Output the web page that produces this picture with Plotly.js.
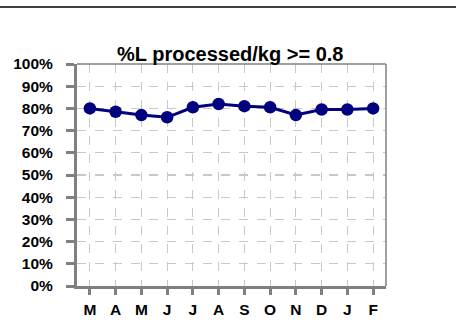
<!DOCTYPE html>
<html><head><meta charset="utf-8">
<script src="https://cdn.plot.ly/plotly-3.0.1.min.js"></script>
<style>html,body{margin:0;padding:0;background:#fff}#c{width:456px;height:328px}</style>
</head><body><div id="c"></div>
<script>
const months = ["M","A","M","J","J","A","S","O","N","D","J","F"];
const pct = [0.80,0.785,0.77,0.76,0.805,0.82,0.81,0.805,0.77,0.795,0.795,0.80];
const yTicks = [0,0.1,0.2,0.3,0.4,0.5,0.6,0.7,0.8,0.9,1.0];
const xIdx = months.map((m,i)=>i);

const trace = {
  x: xIdx, y: pct, type:'scatter', mode:'lines+markers',
  line:{color:'#000080', width:3},
  marker:{color:'#000080', size:12.5},
  hoverinfo:'none'
};
const F = 'Liberation Sans, Arial, sans-serif';
const layout = {
  width:456, height:328,
  margin:{l:77,r:70,t:64,b:42},
  paper_bgcolor:'#fff', plot_bgcolor:'#fff',
  showlegend:false,
  font:{family:F, color:'#000'},
  title:{text:'<b>%L processed/kg >= 0.8</b>', font:{size:20,family:F,color:'#000'},
    x:0.505, xanchor:'center', y:(328-54)/328, yanchor:'middle', yref:'container'},
  xaxis:{
    range:[-0.5,11.5], tickmode:'array', tickvals:xIdx, ticktext:months,
    showline:true, linecolor:'#808080', linewidth:3, mirror:false,
    ticks:'outside', ticklen:6, tickwidth:3, tickcolor:'#808080',
    showgrid:true, gridcolor:'#c8c8c8', griddash:'dash', gridwidth:1.2,
    tickfont:{size:15.5, family:F, weight:'bold'},
    ticklabelstandoff:1, zeroline:false, fixedrange:true
  },
  yaxis:{
    range:[0,1], tickmode:'array', tickvals:yTicks, ticktext:yTicks.map(v=>Math.round(v*100)+'%'),
    showline:true, linecolor:'#808080', linewidth:3,
    ticks:'outside', ticklen:8, tickwidth:3, tickcolor:'#808080',
    showgrid:true, gridcolor:'#c8c8c8', griddash:'dash', gridwidth:1.2,
    tickfont:{size:15.5, family:F, weight:'bold'},
    ticklabelstandoff:10, zeroline:false, fixedrange:true
  },
  shapes:[
    {type:'line', xref:'paper', yref:'paper', x0:0, x1:1, y0:1, y1:1, line:{color:'#808080', width:1.5}},
    {type:'line', xref:'paper', yref:'paper', x0:1, x1:1, y0:0, y1:1, line:{color:'#808080', width:1.5}},
    {type:'line', xref:'paper', yref:'paper', x0:-77/309, x1:(456-77)/309, y0:1+(64-7)/222, y1:1+(64-7)/222, line:{color:'#000', width:1.5}}
  ]
};
Plotly.newPlot('c',[trace],layout,{staticPlot:true,displayModeBar:false});
</script></body></html>
